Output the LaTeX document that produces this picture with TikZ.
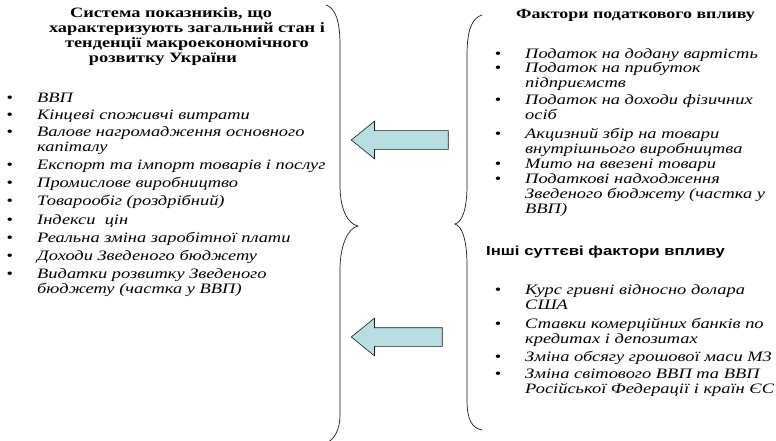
\documentclass[tikz,border=0pt]{standalone}
\usepackage{fontspec}
\setmainfont{Liberation Serif}[FakeStretch=1.28]
\setsansfont{Liberation Sans}[FakeStretch=1.28]
\usetikzlibrary{positioning,shapes.arrows}
\definecolor{blakyt}{HTML}{B7DFE2}
\definecolor{obvid}{HTML}{1A1A1A}
\newcommand\punkt{\strut\llap{{\upshape\textbullet}\hspace{24pt}}}

\begin{document}
\begin{tikzpicture}[x=1pt, y=-1pt,
  pokaznyk/.style={font=\itshape\fontsize{14.4}{15}\selectfont, inner sep=0pt, align=left, anchor=north west},
  zagolovok/.style={font=\bfseries\fontsize{14}{15}\selectfont, inner sep=0pt},
  strilka/.style={single arrow, draw=obvid, fill=blakyt, line width=0.6pt, shape border rotate=180,
    single arrow head extend=9.5pt, single arrow tip angle=78, text height=9pt, text depth=9pt,
    minimum width=37pt, inner sep=0pt},
  duzhka/.style={draw=obvid, line width=0.7pt}]
  \useasboundingbox (0,0) rectangle (776,441);
  % ліва колонка
  \node[zagolovok, font=\bfseries\fontsize{14.3}{15}\selectfont, align=center, anchor=north] (sys) at (187,6.5)
    {\strut Система показників, що\hspace*{32pt}\\характеризують загальний стан і\\тенденції макроекономічного\\розвитку України\hspace*{48pt}};
  \node[pokaznyk] (l1) at (37,91.5) {\punkt ВВП};
  \node[pokaznyk] (l2) at (37,108.5) {\punkt Кінцеві споживчі витрати};
  \node[pokaznyk] (l3) at (37,125.5) {\punkt Валове нагромадження основного\\капіталу};
  \node[pokaznyk] (l4) at (37,158.5) {\punkt Експорт та імпорт товарів і послуг};
  \node[pokaznyk] (l5) at (37,176.5) {\punkt Промислове виробництво};
  \node[pokaznyk] (l6) at (37,194.5) {\punkt Товарообіг (роздрібний)};
  \node[pokaznyk] (l7) at (37,213.5) {\punkt Індекси\ \ цін};
  \node[pokaznyk] (l8) at (37,231.5) {\punkt Реальна зміна заробітної плати};
  \node[pokaznyk] (l9) at (37,249.5) {\punkt Доходи Зведеного бюджету};
  \node[pokaznyk] (l10) at (37,267.5) {\punkt Видатки розвитку Зведеного\\бюджету (частка у ВВП)};
  % права колонка
  \node[zagolovok, anchor=base west] (podat) at (516,19) {Фактори податкового впливу};
  \node[pokaznyk] (p1) at (525,48) {\punkt Податок на додану вартість};
  \node[pokaznyk] (p2) at (525,61.5) {\punkt Податок на прибуток\\підприємств};
  \node[pokaznyk] (p3) at (525,93.5) {\punkt Податок на доходи фізичних\\осіб};
  \node[pokaznyk] (p4) at (525,127.5) {\punkt Акцизний збір на товари\\внутрішнього виробництва};
  \node[pokaznyk] (p5) at (525,157.5) {\punkt Мито на ввезені товари};
  \node[pokaznyk] (p6) at (525,172.5) {\punkt Податкові надходження\\Зведеного бюджету (частка у\\ВВП)};
  \node[zagolovok, font=\sffamily\bfseries\fontsize{13.1}{15}\selectfont, anchor=base west] (inshi) at (486,255)
    {Інші суттєві фактори впливу};
  \node[pokaznyk] (f1) at (525,284) {\punkt Курс гривні відносно долара\\США};
  \node[pokaznyk] (f2) at (525,318) {\punkt Ставки комерційних банків по\\кредитах і депозитах};
  \node[pokaznyk] (f3) at (525,350.5) {\punkt Зміна обсягу грошової маси М3};
  \node[pokaznyk] (f4) at (525,367.5) {\punkt Зміна світового ВВП та ВВП\\Російської Федерації і країн ЄС};
  % дужки
  \draw[duzhka] (326,5) .. controls (335,8) and (340,20) .. (340,45) -- (340,185)
    .. controls (340,210) and (348,224) .. (358,226)
    .. controls (348,228) and (340,245) .. (340,270) -- (340,415)
    .. controls (340,430) and (334,440) .. (326,443);
  \draw[duzhka] (482,15) .. controls (472,18) and (467,30) .. (467,55) -- (467,185)
    .. controls (467,210) and (462,222) .. (455,224)
    .. controls (462,226) and (467,240) .. (467,265) -- (467,400)
    .. controls (467,420) and (472,428) .. (482,430);
  % стрілки
  \node[strilka, minimum height=97pt] (s1) at (405.5,140) {};
  \node[strilka, minimum height=91pt] (s2) at (402.5,337) {};
\end{tikzpicture}
\end{document}
